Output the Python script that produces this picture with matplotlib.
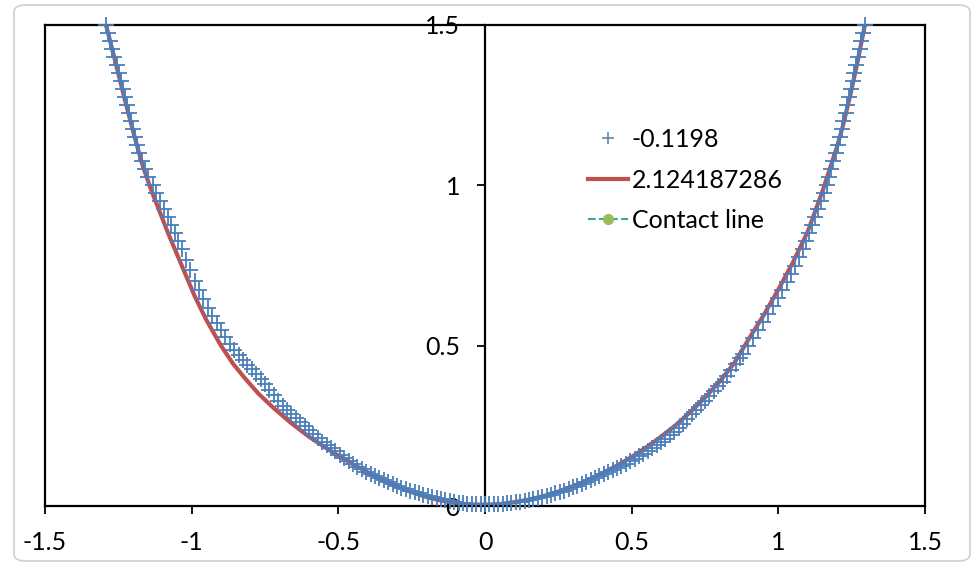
import matplotlib
matplotlib.use("Agg")
import matplotlib.pyplot as plt
from matplotlib.patches import FancyBboxPatch

plt.rcParams['font.family'] = ['Lato', 'DejaVu Sans']

x_left = [-1.292, -1.285, -1.278, -1.271, -1.264, -1.256, -1.249, -1.242, -1.235, -1.227,
          -1.220, -1.213, -1.206, -1.199, -1.192, -1.185, -1.178, -1.169, -1.160, -1.150,
          -1.133, -1.121, -1.108, -1.095, -1.082, -1.070, -1.058, -1.046, -1.034,
          -1.020, -1.005, -0.990, -0.975, -0.960, -0.945, -0.930, -0.915, -0.900, -0.885,
          -0.870, -0.855, -0.840, -0.825, -0.810,
          -0.795, -0.780, -0.765, -0.750, -0.735, -0.720, -0.705, -0.690, -0.675, -0.660,
          -0.645, -0.630, -0.615, -0.600, -0.585, -0.570, -0.555, -0.540, -0.525, -0.510,
          -0.495, -0.480, -0.465, -0.450, -0.435, -0.420, -0.405, -0.390, -0.375, -0.360,
          -0.345, -0.330, -0.315, -0.300, -0.285, -0.270, -0.255, -0.240, -0.225, -0.210,
          -0.195, -0.180, -0.165, -0.150, -0.135, -0.120, -0.105, -0.090, -0.075, -0.060,
          -0.045, -0.030, -0.015, 0.000]
y_left = [1.500, 1.475, 1.450, 1.425, 1.400, 1.375, 1.350, 1.325, 1.300, 1.275,
          1.250, 1.225, 1.200, 1.175, 1.150, 1.125, 1.100, 1.075, 1.050, 1.025,
          1.000, 0.975, 0.950, 0.925, 0.900, 0.875, 0.850, 0.825, 0.800,
          0.768, 0.735, 0.703, 0.673, 0.645, 0.618, 0.593, 0.570, 0.548, 0.527,
          0.506, 0.487, 0.470, 0.455, 0.441,
          0.427, 0.411, 0.395, 0.379, 0.362, 0.345, 0.328, 0.312, 0.298, 0.286,
          0.274, 0.261, 0.249, 0.236, 0.224, 0.213, 0.201, 0.190, 0.180, 0.170,
          0.160, 0.150, 0.140, 0.131, 0.123, 0.115, 0.107, 0.100, 0.093, 0.086,
          0.080, 0.074, 0.068, 0.063, 0.057, 0.052, 0.047, 0.043, 0.039, 0.035,
          0.031, 0.027, 0.024, 0.021, 0.018, 0.015, 0.012, 0.010, 0.009, 0.007,
          0.006, 0.005, 0.005, 0.005]

# measured profile - right branch
x_right = [0.015, 0.030, 0.045, 0.060, 0.075, 0.090, 0.105, 0.120, 0.135, 0.150,
           0.165, 0.180, 0.195, 0.210, 0.225, 0.240, 0.255, 0.270, 0.285, 0.300,
           0.315, 0.330, 0.345, 0.360, 0.375, 0.390, 0.405, 0.420, 0.435, 0.450,
           0.465, 0.480, 0.495, 0.510, 0.525, 0.540, 0.555, 0.570, 0.585, 0.600,
           0.615, 0.630, 0.645, 0.660, 0.675, 0.690, 0.705, 0.720, 0.735, 0.750,
           0.765, 0.780, 0.795, 0.810, 0.825, 0.840, 0.855, 0.870,
           0.878, 0.896, 0.913, 0.931, 0.949, 0.966, 0.982, 0.999, 1.013, 1.028,
           1.043, 1.058, 1.071, 1.083, 1.094, 1.105, 1.116, 1.126, 1.136, 1.146,
           1.156, 1.165, 1.173, 1.180, 1.188, 1.195, 1.202, 1.209, 1.216, 1.222,
           1.229, 1.235, 1.241, 1.247, 1.253, 1.259, 1.265, 1.271, 1.277, 1.283,
           1.289, 1.295]
y_right = [0.005, 0.006, 0.006, 0.007, 0.008, 0.010, 0.012, 0.014, 0.016, 0.018,
           0.021, 0.024, 0.027, 0.031, 0.035, 0.039, 0.043, 0.048, 0.053, 0.058,
           0.063, 0.068, 0.074, 0.080, 0.086, 0.093, 0.099, 0.106, 0.112, 0.119,
           0.125, 0.132, 0.140, 0.147, 0.155, 0.163, 0.171, 0.180, 0.189, 0.199,
           0.210, 0.221, 0.232, 0.244, 0.257, 0.271, 0.286, 0.300, 0.314, 0.328,
           0.343, 0.358, 0.373, 0.388, 0.404, 0.423, 0.442, 0.463,
           0.475, 0.500, 0.525, 0.550, 0.575, 0.600, 0.625, 0.650, 0.675, 0.700,
           0.725, 0.750, 0.775, 0.800, 0.825, 0.850, 0.875, 0.900, 0.925, 0.950,
           0.975, 1.000, 1.025, 1.050, 1.075, 1.100, 1.125, 1.150, 1.175, 1.200,
           1.225, 1.250, 1.275, 1.300, 1.325, 1.350, 1.375, 1.400, 1.425, 1.450,
           1.475, 1.500]

# fitted profile (red line)
x_fit = [-1.292, -1.26, -1.23, -1.20, -1.17, -1.14, -1.11, -1.08, -1.057, -1.02,
         -0.99, -0.95, -0.90, -0.86, -0.82, -0.774, -0.72, -0.66, -0.60, -0.54,
         -0.50, -0.45, -0.40, -0.35, -0.30, -0.25, -0.20,
         -0.15, -0.10, -0.05, 0.0, 0.05, 0.10, 0.15, 0.20, 0.25, 0.30,
         0.35, 0.40, 0.45, 0.50, 0.55, 0.60, 0.65, 0.70, 0.75, 0.80,
         0.85, 0.90, 0.95, 1.00, 1.05, 1.10, 1.15, 1.20, 1.22, 1.245,
         1.27, 1.295]
y_fit = [1.500, 1.385, 1.275, 1.170, 1.070, 0.990, 0.920, 0.850, 0.800, 0.720,
         0.655, 0.580, 0.500, 0.445, 0.400, 0.352, 0.305, 0.258, 0.216, 0.180,
         0.157, 0.130, 0.105, 0.082, 0.061, 0.043, 0.028,
         0.017, 0.009, 0.005, 0.004, 0.006, 0.012, 0.020, 0.031, 0.045, 0.062,
         0.080, 0.102, 0.126, 0.153, 0.183, 0.216, 0.252, 0.293, 0.338, 0.388,
         0.446, 0.522, 0.595, 0.675, 0.760, 0.855, 0.980, 1.120, 1.185, 1.280,
         1.385, 1.500]

labels = ['-0.1198', '2.124187286', 'Contact line']
xticks = [-1.5, -1, -0.5, 0, 0.5, 1, 1.5]
yticks = [0, 0.5, 1, 1.5]

fig = plt.figure(figsize=(9.72, 5.67), dpi=100)
ax = fig.add_axes([45 / 972, 1 - 506 / 567, 880 / 972, 481 / 567])

ax.plot(x_left + x_right, y_left + y_right, linestyle='none', marker='+',
        markersize=11, mew=1.3, color='#4A7EBB', label=labels[0],
        clip_on=False, zorder=3)
ax.plot(x_fit, y_fit, color='#C0504D', lw=3, label=labels[1], zorder=2)
ax.plot([], [], linestyle='--', color='#3FA88A', marker='o', markersize=7,
        markerfacecolor='#9BBB59', markeredgecolor='#9BBB59', lw=1.5, label=labels[2])

ax.set_xlim(-1.5, 1.5)
ax.set_ylim(0, 1.5)
ax.set_xticks(xticks)
ax.set_yticks(yticks)
ax.set_xticklabels(['-1.5', '-1', '-0.5', '0', '0.5', '1', '1.5'])
ax.set_yticklabels(['0', '0.5', '1', '1.5'])

for s in ax.spines.values():
    s.set_linewidth(1.6)
ax.spines['left'].set_position(('data', 0))
ax.axvline(-1.5, color='k', lw=1.6, clip_on=False)

ax.tick_params(axis='both', direction='out', length=6, width=1.3, labelsize=18)
ax.tick_params(axis='x', pad=12, top=False)
ax.tick_params(axis='y', pad=12, right=False)

leg = ax.legend(loc='upper left', bbox_to_anchor=(588 / 972, 1 - 128 / 567),
                bbox_transform=fig.transFigure, frameon=False, fontsize=18,
                handlelength=1.6, handletextpad=0.15, labelspacing=0.7, borderpad=0,
                borderaxespad=0)
leg.legend_handles[0].set_markersize(8)
leg.legend_handles[0].set_color('#6A8FB8')

frame = FancyBboxPatch((14 / 972, 6 / 567), 956 / 972, 556 / 567,
                       boxstyle='round,pad=0,rounding_size=0.012',
                       transform=fig.transFigure, facecolor='none',
                       edgecolor='#d0d0d0', lw=1.2)
fig.patches.append(frame)

fig.savefig('out.png', dpi=100)
